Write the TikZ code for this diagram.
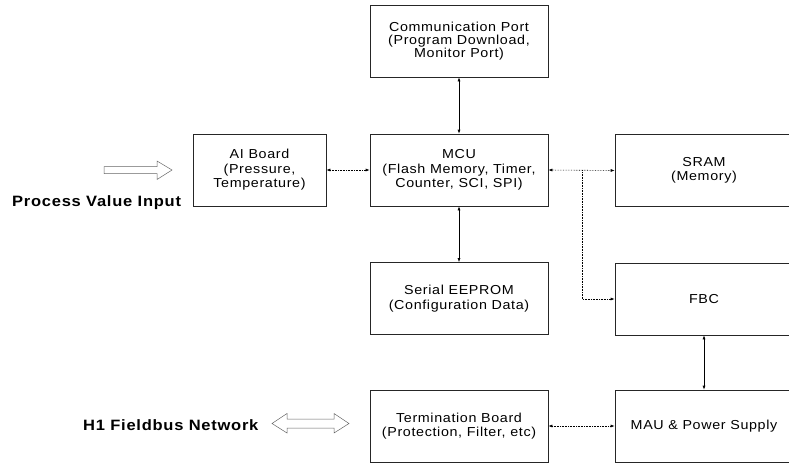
\documentclass[tikz,border=0pt]{standalone}
\usepackage{fontspec}
\setmainfont{Liberation Sans}[FakeStretch=1.1, LetterSpace=5]
\usetikzlibrary{arrows.meta}
\tikzset{
  blk/.style={draw=black!85, line width=0.6pt, minimum width=178pt, minimum height=72pt,
    inner sep=0pt, align=center, font=\fontsize{13}{14.5}\selectfont},
  lbl/.style={anchor=west, inner sep=0pt, font=\fontsize{15}{15}\selectfont\bfseries},
  link/.style={line width=0.6pt, {Latex[length=4pt,width=3pt]}-{Latex[length=4pt,width=3pt]}},
  dlink/.style={link, densely dotted},
  hollow/.style={draw=black!60, line width=0.5pt, line join=miter}
}
\begin{document}
\begin{tikzpicture}[x=1pt,y=-1pt]
\clip (0,0) rectangle (789,463);
\fill[white] (0,0) rectangle (789,463);

\node[blk, font=\fontsize{13}{13}\selectfont] (comm) at (459,41) {Communication Port\\(Program Download,\\Monitor Port)};
\node[blk] (mcu) at (459,170) {MCU\\(Flash Memory, Timer,\\Counter, SCI, SPI)};
\node[blk, minimum width=133pt] (ai) at (259.5,170) {AI Board\\(Pressure,\\Temperature)};
\node[blk] (sram) at (704,170.5) {SRAM\\(Memory)};
\node[blk] (eeprom) at (459,298.5) {Serial EEPROM\\(Configuration Data)};
\node[blk] (fbc) at (704,299) {FBC};
\node[blk] (term) at (459,426) {Termination Board\\(Protection, Filter, etc)};
\node[blk] (mau) at (704,426) {MAU \& Power Supply};

\node[lbl] (pvi) at (12,203) {Process Value Input};
\node[lbl] (h1) at (83,425) {H1 Fieldbus Network};

% connectors
\draw[link] (comm.south) -- (mcu.north);
\draw[link] (mcu.south) -- (eeprom.north);
\draw[link] (fbc.south) -- (mau.north);
\draw[dlink] (ai.east) -- (mcu.west);
\draw[dlink] (mcu.east) -- (sram.west);
\coordinate (br) at (582,170.3);
\draw[line width=0.6pt, densely dotted, -{Latex[length=4pt,width=3pt]}] (br) |- (fbc.west);
\draw[dlink] (term.east) -- (mau.west);

% hollow arrows
\draw[hollow] (104,166.5) -- (157,166.5) -- (157,161) -- (172,170) -- (157,179.5) -- (157,173.5) -- (104,173.5) -- cycle;
\draw[hollow] (272,423.5) -- (287,413.5) -- (287,419) -- (334,419) -- (334,413.5) -- (349,423.5)
  -- (334,433) -- (334,428) -- (287,428) -- (287,433) -- cycle;
\end{tikzpicture}
\end{document}
